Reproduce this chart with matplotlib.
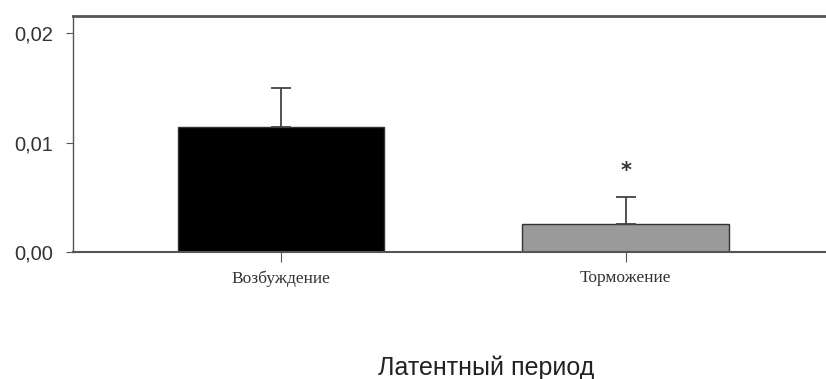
import matplotlib.pyplot as plt

# данные
categories = ['Возбуждение', 'Торможение']
values = [0.0114, 0.0026]
errors = [0.0036, 0.0024]
bar_colors = ['#000000', '#9a9a9a']
yticks = [0.0, 0.01, 0.02]
ytick_labels = ['0,00', '0,01', '0,02']

fig = plt.figure(figsize=(8.26, 3.79), dpi=100)
ax = fig.add_axes([73 / 826, 127 / 379, 1 - 73 / 826, 236 / 379])

x = list(range(len(categories)))
ax.bar(x, values, width=0.6, color=bar_colors, edgecolor='#333333', linewidth=1)
ax.errorbar(x, values, yerr=[[0, 0], errors], fmt='none', ecolor='#444444',
            elinewidth=1.3, capsize=7, capthick=1.3)

# звездочка над вторым столбиком
ax.text(x[1], values[1] + errors[1] + 0.0024, '*', ha='center', va='center',
        fontsize=15, fontweight='bold', color='#333333')

ax.set_xlim(-0.603, 0.58 + 1)
ax.set_ylim(0, 0.0216)
ax.set_yticks(yticks)
ax.set_yticklabels(ytick_labels, fontsize=14.5, family='Liberation Sans', color='#333333')
ax.set_xticks(x)
ax.set_xticklabels(categories, fontsize=12.5, family='Liberation Serif', color='#333333')

for s in ['top', 'left', 'bottom']:
    ax.spines[s].set_color('#555555')
ax.spines['top'].set_linewidth(2)
ax.spines['left'].set_linewidth(1)
ax.spines['bottom'].set_linewidth(1.5)
ax.spines['right'].set_visible(False)
ax.tick_params(axis='y', direction='out', length=5, color='#555555', pad=9)
ax.tick_params(axis='x', direction='out', length=7, color='#555555', pad=6)

ax.set_xlabel('Латентный период', fontsize=18, family='Liberation Sans', color='#222222')
ax.xaxis.set_label_coords((486 - 73) / (826 - 73), -0.44)

fig.savefig('out.png', dpi=100)
